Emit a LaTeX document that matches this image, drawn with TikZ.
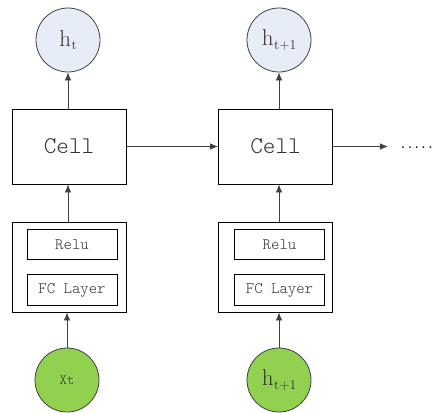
\documentclass[tikz,border=0pt]{standalone}
\usepackage{fontspec}
\usetikzlibrary{arrows.meta}
\newfontfamily\lightmono{Latin Modern Mono Light}
\definecolor{outblue}{HTML}{E6EDF7}
\definecolor{ingreen}{HTML}{92D050}
\definecolor{linegray}{HTML}{404040}
\definecolor{textgray}{HTML}{333333}
\newcommand{\hsub}[1]{h\kern0.5pt\raisebox{-3.5pt}{\fontsize{13.5}{13.5}\selectfont #1}}
\begin{document}
\begin{tikzpicture}[x=1pt,y=-1pt,
  state/.style={circle,draw=linegray,line width=0.8pt,minimum size=64pt,inner sep=0pt,
    text=textgray,font=\fontsize{23}{23}\selectfont},
  cellbox/.style={rectangle,draw=black,line width=0.8pt,fill=white,minimum width=114pt,
    minimum height=75pt,inner sep=0pt,text=textgray,font=\lightmono\fontsize{24}{24}\selectfont},
  outerbox/.style={rectangle,draw=black,line width=0.8pt,minimum width=114pt,
    minimum height=90pt,inner sep=0pt},
  layerbox/.style={rectangle,draw=black,line width=0.8pt,minimum width=90pt,
    minimum height=30.5pt,inner sep=0pt,text=textgray,font=\lightmono\fontsize{16}{16}\selectfont},
  flow/.style={draw=linegray,line width=0.8pt,-{Latex[length=8pt,width=6.5pt]}}]
\useasboundingbox (0,0) rectangle (435,412);

% left time step
\node[state,fill=outblue] (h1) at (68,40) {\hsub{t}};
\node[cellbox] (c1) at (69,146.5) {Cell};
\node[outerbox] (b1) at (69,267) {};
\node[layerbox] (r1) at (72,244.5) {Relu};
\node[layerbox] (f1) at (72,290) {FC Layer};
\node[state,fill=ingreen,font=\lightmono\fontsize{14}{14}\selectfont] (x1) at (67,380) {Xt};

% right time step
\node[state,fill=outblue] (h2) at (279,40) {\hsub{t+1}};
\node[cellbox] (c2) at (275.5,146.5) {Cell};
\node[outerbox] (b2) at (275.5,267) {};
\node[layerbox] (r2) at (279.5,244.5) {Relu};
\node[layerbox] (f2) at (279.5,290) {FC Layer};
\node[state,fill=ingreen] (x2) at (279,380) {\hsub{t+1}};

\coordinate (next) at (388,146.5);
\node[anchor=base west,inner sep=0pt,text=black,font=\ttfamily\bfseries\fontsize{13}{13}\selectfont] (dots) at (399.5,148.5) {.....};

% connectors
\draw[flow] (c1.north -| h1) -- (h1.south);
\draw[flow] (b1.north -| h1) -- (c1.south -| h1);
\draw[flow] (x1.north) -- (b1.south -| x1);
\draw[flow] (c1.east) -- (c2.west);
\draw[flow] (c2.north -| h2) -- (h2.south);
\draw[flow] (b2.north -| h2) -- (c2.south -| h2);
\draw[flow] (x2.north) -- (b2.south -| x2);
\draw[flow] (c2.east) -- (next);
\end{tikzpicture}
\end{document}
